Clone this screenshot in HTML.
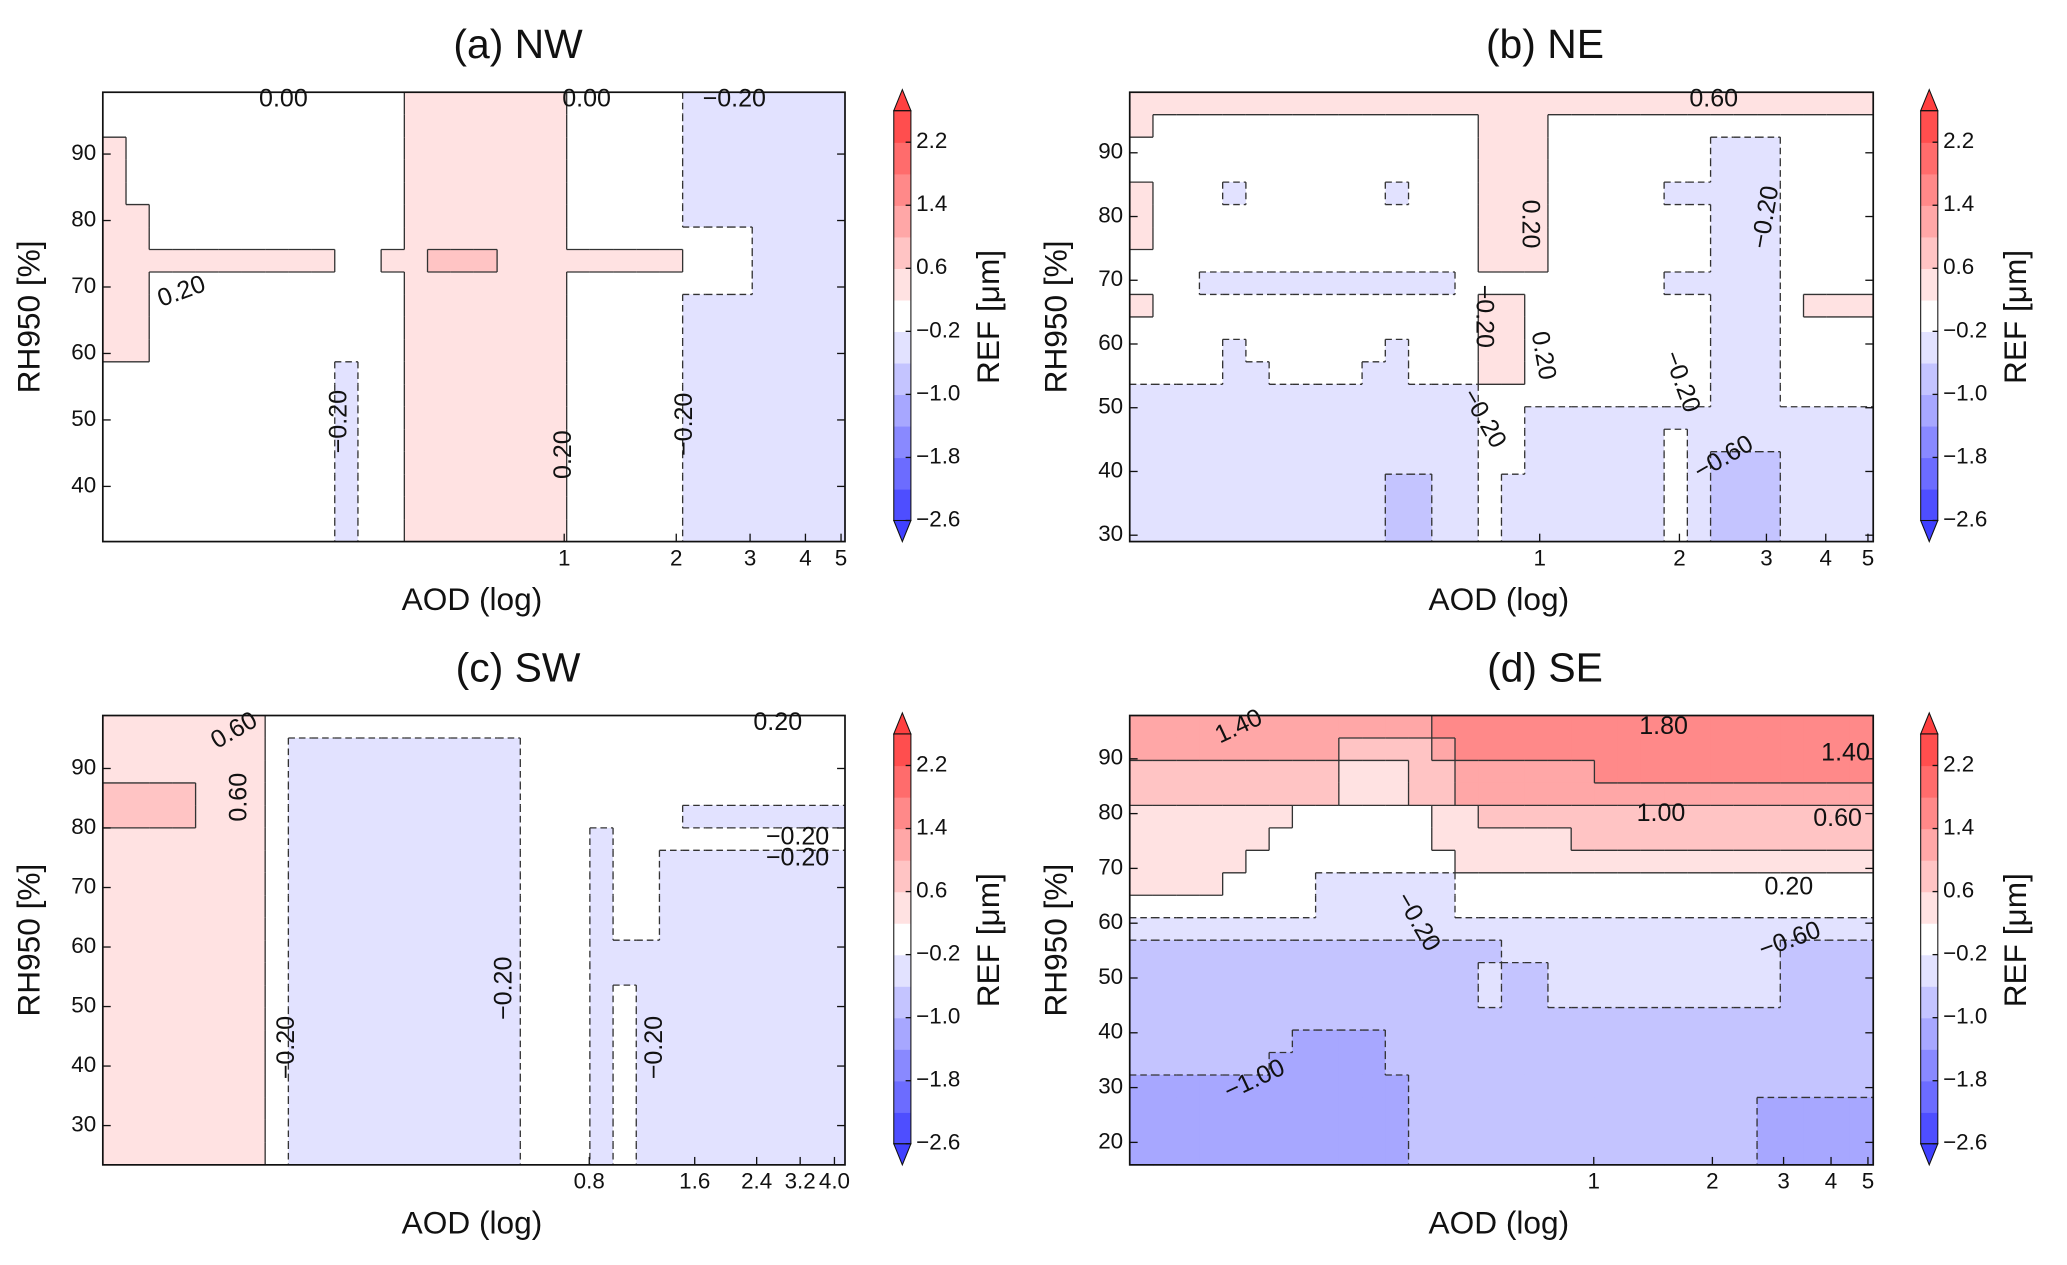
<!DOCTYPE html>
<html><head><meta charset="utf-8">
<style>
html,body{margin:0;padding:0;background:#fff;}
svg{display:block;}
text{font-family:"Liberation Sans",sans-serif;fill:#111;}
</style></head>
<body>
<svg id="fig" width="2067" height="1265" viewBox="0 0 1568 960" preserveAspectRatio="none" xmlns="http://www.w3.org/2000/svg"></svg>
<script>
// ---- data: level codes -> REF values (µm) ----
const codes = ['d','c','b','w','p','q','r','s','t'];
const codeValues = [-1.2,-0.8,-0.4,0,0.4,0.8,1.2,1.6,2.0];
const cbarTicks = [2.2,1.4,0.6,-0.2,-1.0,-1.8,-2.6];
const cbarEdges = [-2.6,-2.2,-1.8,-1.4,-1.0,-0.6,-0.2,0.2,0.6,1.0,1.4,1.8,2.2,2.6];

// panel grids (rows top->bottom = high RH -> low RH; cols = low AOD -> high AOD)
const gridNW = [
"wwwwwwwwwwwwwpppppppwwwwwbbbbbbb",
"wwwwwwwwwwwwwpppppppwwwwwbbbbbbb",
"pwwwwwwwwwwwwpppppppwwwwwbbbbbbb",
"pwwwwwwwwwwwwpppppppwwwwwbbbbbbb",
"pwwwwwwwwwwwwpppppppwwwwwbbbbbbb",
"ppwwwwwwwwwwwpppppppwwwwwbbbbbbb",
"ppwwwwwwwwwwwpppppppwwwwwwwwbbbb",
"ppppppppppwwppqqqppppppppwwwbbbb",
"ppwwwwwwwwwwwpppppppwwwwwwwwbbbb",
"ppwwwwwwwwwwwpppppppwwwwwbbbbbbb",
"ppwwwwwwwwwwwpppppppwwwwwbbbbbbb",
"ppwwwwwwwwwwwpppppppwwwwwbbbbbbb",
"wwwwwwwwwwbwwpppppppwwwwwbbbbbbb",
"wwwwwwwwwwbwwpppppppwwwwwbbbbbbb",
"wwwwwwwwwwbwwpppppppwwwwwbbbbbbb",
"wwwwwwwwwwbwwpppppppwwwwwbbbbbbb",
"wwwwwwwwwwbwwpppppppwwwwwbbbbbbb",
"wwwwwwwwwwbwwpppppppwwwwwbbbbbbb",
"wwwwwwwwwwbwwpppppppwwwwwbbbbbbb",
"wwwwwwwwwwbwwpppppppwwwwwbbbbbbb"];
const gridNE = [
"pppppppppppppppppppppppppppppppp",
"pwwwwwwwwwwwwwwpppwwwwwwwwwwwwww",
"wwwwwwwwwwwwwwwpppwwwwwwwbbbwwww",
"wwwwwwwwwwwwwwwpppwwwwwwwbbbwwww",
"pwwwbwwwwwwbwwwpppwwwwwbbbbbwwww",
"pwwwwwwwwwwwwwwpppwwwwwwwbbbwwww",
"pwwwwwwwwwwwwwwpppwwwwwwwbbbwwww",
"wwwwwwwwwwwwwwwpppwwwwwwwbbbwwww",
"wwwbbbbbbbbbbbwwwwwwwwwbbbbbwwww",
"pwwwwwwwwwwwwwwppwwwwwwwwbbbwppp",
"wwwwwwwwwwwwwwwppwwwwwwwwbbbwwww",
"wwwwbwwwwwwbwwwppwwwwwwwwbbbwwww",
"wwwwbbwwwwbbwwwppwwwwwwwwbbbwwww",
"bbbbbbbbbbbbbbbwwwwwwwwwwbbbwwww",
"bbbbbbbbbbbbbbbwwbbbbbbbbbbbbbbb",
"bbbbbbbbbbbbbbbwwbbbbbbwbbbbbbbb",
"bbbbbbbbbbbbbbbwwbbbbbbwbcccbbbb",
"bbbbbbbbbbbccbbwbbbbbbbwbcccbbbb",
"bbbbbbbbbbbccbbwbbbbbbbwbcccbbbb",
"bbbbbbbbbbbccbbwbbbbbbbwbcccbbbb"];
const gridSW = [
"pppppppwwwwwwwwwwwwwwwwwwwwwwwww",
"pppppppwbbbbbbbbbbwwwwwwwwwwwwww",
"pppppppwbbbbbbbbbbwwwwwwwwwwwwww",
"qqqqpppwbbbbbbbbbbwwwwwwwwwwwwww",
"qqqqpppwbbbbbbbbbbwwwwwwwbbbbbbb",
"pppppppwbbbbbbbbbbwwwbwwwwwwwwww",
"pppppppwbbbbbbbbbbwwwbwwbbbbbbbb",
"pppppppwbbbbbbbbbbwwwbwwbbbbbbbb",
"pppppppwbbbbbbbbbbwwwbwwbbbbbbbb",
"pppppppwbbbbbbbbbbwwwbwwbbbbbbbb",
"pppppppwbbbbbbbbbbwwwbbbbbbbbbbb",
"pppppppwbbbbbbbbbbwwwbbbbbbbbbbb",
"pppppppwbbbbbbbbbbwwwbwbbbbbbbbb",
"pppppppwbbbbbbbbbbwwwbwbbbbbbbbb",
"pppppppwbbbbbbbbbbwwwbwbbbbbbbbb",
"pppppppwbbbbbbbbbbwwwbwbbbbbbbbb",
"pppppppwbbbbbbbbbbwwwbwbbbbbbbbb",
"pppppppwbbbbbbbbbbwwwbwbbbbbbbbb",
"pppppppwbbbbbbbbbbwwwbwbbbbbbbbb",
"pppppppwbbbbbbbbbbwwwbwbbbbbbbbb"];
const gridSE = [
"rrrrrrrrrrrrrsssssssssssssssssss",
"rrrrrrrrrqqqqrssssssssssssssssss",
"qqqqqqqqqpppqqrrrrrrssssssssssss",
"qqqqqqqqqpppqqrrrrrrrrrrrrrrrrrr",
"pppppppwwwwwwppqqqqqqqqqqqqqqqqq",
"ppppppwwwwwwwppppppqqqqqqqqqqqqq",
"pppppwwwwwwwwwpppppppppppppppppp",
"ppppwwwwbbbbbbwwwwwwwwwwwwwwwwww",
"wwwwwwwwbbbbbbwwwwwwwwwwwwwwwwww",
"bbbbbbbbbbbbbbbbbbbbbbbbbbbbbbbb",
"ccccccccccccccccbbbbbbbbbbbbcccc",
"cccccccccccccccbccbbbbbbbbbbcccc",
"cccccccccccccccbccbbbbbbbbbbcccc",
"cccccccccccccccccccccccccccccccc",
"cccccccddddccccccccccccccccccccc",
"ccccccdddddccccccccccccccccccccc",
"ddddddddddddcccccccccccccccccccc",
"ddddddddddddcccccccccccccccddddd",
"ddddddddddddcccccccccccccccddddd",
"ddddddddddddcccccccccccccccddddd"];

// axis ticks
const yTicksNW = [40,50,60,70,80,90];
const yTicksNE = [30,40,50,60,70,80,90];
const yTicksSW = [30,40,50,60,70,80,90];
const yTicksSE = [20,30,40,50,60,70,80,90];
const xLabelsNW = ["1","2","3","4","5"];
const xLabelsNE = ["1","2","3","4","5"];
const xLabelsSW = ["0.8","1.6","2.4","3.2","4.0"];
const xLabelsSE = ["1","2","3","4","5"];

// ---- layout ----
const NS="http://www.w3.org/2000/svg";
const svg=document.getElementById('fig');
function mk(tag,attrs,parent){const e=document.createElementNS(NS,tag);for(const k in attrs)e.setAttribute(k,attrs[k]);(parent||svg).appendChild(e);return e;}
function color(v){let t=(v+2.6)/5.2;t=Math.max(0,Math.min(1,t));let r,g,b;if(t<0.5){r=g=2*t;b=1;}else{r=1;g=b=2*(1-t);}
 const f=c=>Math.round((c*0.75+0.25)*255);return `rgb(${f(r)},${f(g)},${f(b)})`;}
function valOf(ch){return codeValues[codes.indexOf(ch)];}

const panels=[
 {key:'nw',title:'(a) NW',grid:gridNW,x0:78,y0:70,w:563,h:341,ymin:31.7,ymax:99.3,yt:yTicksNW,xl:xLabelsNW,xp:[428,513,569,611,638],cb:678},
 {key:'ne',title:'(b) NE',grid:gridNE,x0:857,y0:70,w:564,h:341,ymin:29,ymax:99.5,yt:yTicksNE,xl:xLabelsNE,xp:[1168,1274,1340,1385,1417],cb:1457},
 {key:'sw',title:'(c) SW',grid:gridSW,x0:78,y0:543,w:563,h:341,ymin:23.4,ymax:98.9,yt:yTicksSW,xl:xLabelsSW,xp:[447,527,574,607,633],cb:678},
 {key:'se',title:'(d) SE',grid:gridSE,x0:857,y0:543,w:564,h:341,ymin:15.9,ymax:97.9,yt:yTicksSE,xl:xLabelsSE,xp:[1209,1299,1353,1389,1417],cb:1457}
];
const contourLabels={
 nw:[["0.20",138,222,-20],["-0.20",258,320,-90],["0.20",428,345,-90],["-0.20",520,322,-90],["0.00",215,76,0],["0.00",445,76,0],["-0.20",557,76,0]],
 ne:[["0.20",1160,170,90],["-0.20",1125,240,90],["-0.20",1340,165,-80],["0.20",1170,270,80],["-0.20",1275,290,70],["-0.60",1308,348,-30],["-0.20",1125,318,60],["0.60",1300,76,0]],
 sw:[["0.60",182,605,-90],["0.60",178,555,-30],["-0.20",218,795,-90],["-0.20",383,750,-90],["-0.20",497,795,-90],["-0.20",605,636,0],["-0.20",605,652,0],["0.20",590,549,0]],
 se:[["1.40",940,552,-25],["1.80",1262,552,0],["1.40",1400,572,0],["1.00",1260,618,0],["0.60",1394,622,0],["0.20",1357,674,0],["-0.60",1358,714,-20],["-0.20",1075,700,60],["-1.00",952,820,-25]]
};

panels.forEach(P=>{
 const g=mk('g',{});
 
 
 const rows=P.grid.length, cols=P.grid[0].length;
 const cw=P.w/cols, rh=P.h/rows;
 const sx=c=>P.x0+c*cw, sy=r=>P.y0+r*rh;
 const yScale=v=>P.y0+(P.ymax-v)/(P.ymax-P.ymin)*P.h;
 for(let r=0;r<rows;r++)for(let c=0;c<cols;c++){
  const v=valOf(P.grid[r][c]);
  const cell=mk('rect',{x:sx(c),y:sy(r),width:cw+0.6,height:rh+0.6,fill:color(v)},g);
  
  
 }
 const lg=mk('g',{stroke:'#333','stroke-width':1,fill:'none'},g);
 for(let r=0;r<rows;r++)for(let c=0;c<cols;c++){
  const a=valOf(P.grid[r][c]);
  if(c<cols-1){const b=valOf(P.grid[r][c+1]);if(a!==b){const neg=Math.max(a,b)<=0;
   const l=mk('line',{x1:sx(c+1),y1:sy(r),x2:sx(c+1),y2:sy(r+1)},lg);if(neg)l.setAttribute('stroke-dasharray','5,3');
   }}
  if(r<rows-1){const b=valOf(P.grid[r+1][c]);if(a!==b){const neg=Math.max(a,b)<=0;
   const l=mk('line',{x1:sx(c),y1:sy(r+1),x2:sx(c+1),y2:sy(r+1)},lg);if(neg)l.setAttribute('stroke-dasharray','5,3');
   }}
 }
 contourLabels[P.key].forEach(L=>{
  const t=mk('text',{x:L[1],y:L[2],'font-size':19,'text-anchor':'middle','dominant-baseline':'middle',transform:`rotate(${L[3]} ${L[1]} ${L[2]})`},g);
  t.textContent=L[0].replace('-','\u2212');
  
 });
 const fr=mk('rect',{x:P.x0,y:P.y0,width:P.w,height:P.h,fill:'none',stroke:'#111','stroke-width':1.3},g);
 
 P.yt.forEach(v=>{
  const y=yScale(v);
  mk('line',{x1:P.x0,y1:y,x2:P.x0+6,y2:y,stroke:'#111'},g);
  mk('line',{x1:P.x0+P.w,y1:y,x2:P.x0+P.w-6,y2:y,stroke:'#111'},g);
  const t=mk('text',{x:P.x0-5,y:y,'font-size':17,'text-anchor':'end','dominant-baseline':'middle'},g);
  t.textContent=v;
 });
 P.xl.forEach((s,i)=>{
  const x=P.xp[i];
  mk('line',{x1:x,y1:P.y0+P.h,x2:x,y2:P.y0+P.h-6,stroke:'#111'},g);
  const t=mk('text',{x:x,y:P.y0+P.h+18,'font-size':17,'text-anchor':'middle'},g);
  t.textContent=s;
 });
 const xt=mk('text',{x:P.x0+280,y:P.y0+P.h+52,'font-size':24,'text-anchor':'middle'},g);
 xt.textContent='AOD (log)';
 const ycx=P.x0-48, ycy=P.y0+P.h/2;
 const yt=mk('text',{x:ycx,y:ycy,'font-size':24,'text-anchor':'middle',transform:`rotate(-90 ${ycx} ${ycy})`},g);
 yt.textContent='RH950 [%]';
 const tt=mk('text',{x:P.x0+315,y:P.y0-26,'font-size':31,'text-anchor':'middle'},g);
 tt.textContent=P.title;
 const cg=mk('g',{},g);
 
 const cx=P.cb, cwid=13, cTop=P.y0+14, cBot=P.y0+P.h-16;
 const cy=v=>cBot-(v+2.6)/5.2*(cBot-cTop);
 for(let i=0;i<cbarEdges.length-1;i++){
  const a=cbarEdges[i],b=cbarEdges[i+1];
  const seg=mk('rect',{x:cx,y:cy(b),width:cwid,height:cy(a)-cy(b)+0.5,fill:color((a+b)/2)},cg);
  
 }
 mk('polygon',{points:`${cx},${cTop} ${cx+cwid},${cTop} ${cx+cwid/2},${P.y0-2}`,fill:color(3),stroke:'#111','stroke-width':0.8},cg);
 mk('polygon',{points:`${cx},${cBot} ${cx+cwid},${cBot} ${cx+cwid/2},${P.y0+P.h}`,fill:color(-3),stroke:'#111','stroke-width':0.8},cg);
 mk('rect',{x:cx,y:cTop,width:cwid,height:cBot-cTop,fill:'none',stroke:'#111','stroke-width':0.8},cg);
 cbarTicks.forEach(v=>{
  const y=cy(v);
  mk('line',{x1:cx+cwid-4,y1:y,x2:cx+cwid,y2:y,stroke:'#111'},cg);
  const t=mk('text',{x:cx+17,y:y,'font-size':17,'dominant-baseline':'middle'},cg);
  t.textContent=v.toFixed(1).replace('-','\u2212');
 });
 const lx=cx+80, ly=P.y0+P.h/2;
 const cl=mk('text',{x:lx,y:ly,'font-size':24,'text-anchor':'middle',transform:`rotate(-90 ${lx} ${ly})`},cg);
 cl.textContent='REF [\u03bcm]';
});
</script>
</body></html>
